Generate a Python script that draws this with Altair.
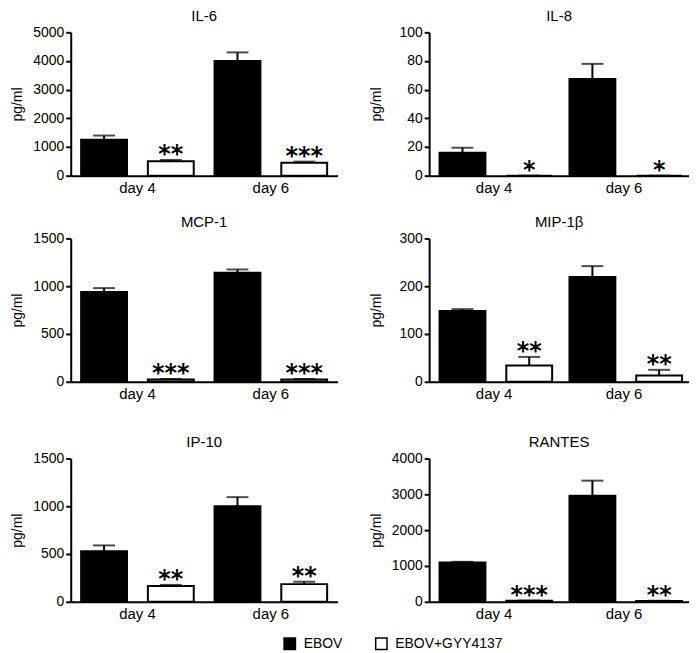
import altair as alt
import pandas as pd

# ---------------- data ----------------
days = ["day 4", "day 6"]
groups = ["EBOV", "EBOV+GYY4137"]

cytokines = ["IL-6", "IL-8", "MCP-1", "MIP-1β", "IP-10", "RANTES"]
# order of values: EBOV d4, GYY d4, EBOV d6, GYY d6
means = {
    "IL-6":   [1250, 500, 4000, 450],
    "IL-8":   [16, 0, 67.5, 0],
    "MCP-1":  [940, 25, 1140, 25],
    "MIP-1β": [148, 34, 219, 13],
    "IP-10":  [530, 165, 1000, 185],
    "RANTES": [1100, 30, 2960, 25],
}
sems = {
    "IL-6":   [150, 50, 300, 40],
    "IL-8":   [3.5, 0, 10.5, 0],
    "MCP-1":  [40, 4, 35, 4],
    "MIP-1β": [4, 18, 23, 12],
    "IP-10":  [60, 12, 95, 25],
    "RANTES": [15, 5, 420, 5],
}
stars = {
    "IL-6":   ["", "**", "", "***"],
    "IL-8":   ["", "*", "", "*"],
    "MCP-1":  ["", "***", "", "***"],
    "MIP-1β": ["", "**", "", "**"],
    "IP-10":  ["", "**", "", "**"],
    "RANTES": ["", "***", "", "**"],
}
ymax = {"IL-6": 5000, "IL-8": 100, "MCP-1": 1500, "MIP-1β": 300, "IP-10": 1500, "RANTES": 4000}
ystep = {"IL-6": 1000, "IL-8": 20, "MCP-1": 500, "MIP-1β": 100, "IP-10": 500, "RANTES": 1000}

FONT = "Liberation Sans"
H = 144


def panel(name, width):
    df = pd.DataFrame({
        "day": [days[0], days[0], days[1], days[1]],
        "group": [groups[0], groups[1], groups[0], groups[1]],
        "mean": means[name],
        "upper": [m + s for m, s in zip(means[name], sems[name])],
        "sig": stars[name],
    })
    yscale = alt.Scale(domain=[0, ymax[name]], nice=False, zero=True)
    yaxis = alt.Axis(values=list(range(0, ymax[name] + 1, ystep[name])),
                     format="d", labelOverlap=False, labelFlush=False,
                     title="pg/ml", titleX=-60, titleY=H / 2,
                     titleBaseline="top", titleAngle=270,
                     titleAlign="center", titleFontSize=14,
                     titleFontWeight="normal", titleFont=FONT,
                     titleColor="black",
                     domainColor="black", domainWidth=2,
                     tickColor="black", tickWidth=2,
                     tickSize=5, labelPadding=2, labelFontSize=14,
                     labelColor="black", labelFont=FONT, grid=False)
    base = alt.Chart(df).encode(
        x=alt.X("day:N", sort=days, title=None,
                scale=alt.Scale(paddingInner=0, paddingOuter=0),
                axis=alt.Axis(ticks=False, labelAngle=0, labelPadding=5,
                              labelFontSize=15, domainColor="black",
                              domainWidth=2, labelColor="black", labelFont=FONT)),
        xOffset=alt.XOffset("group:N", sort=groups,
                            scale=alt.Scale(paddingInner=0.313, paddingOuter=0.156)),
    )
    bars = base.mark_bar(stroke="black", strokeWidth=2).encode(
        y=alt.Y("mean:Q", scale=yscale, axis=yaxis),
        fill=alt.Fill("group:N", sort=groups,
                      scale=alt.Scale(domain=groups, range=["black", "white"]),
                      legend=alt.Legend(orient="none", legendX=213, legendY=607,
                                        direction="horizontal", title=None,
                                        symbolType="square", symbolSize=130,
                                        symbolStrokeColor="black",
                                        symbolStrokeWidth=1.5,
                                        labelFontSize=14, labelFont=FONT,
                                        labelColor="black",
                                        columnPadding=30, labelOffset=7)),
    )
    err = base.mark_rule(color="black", strokeWidth=2).encode(
        y=alt.Y("mean:Q", scale=yscale, axis=yaxis), y2="upper:Q")
    cap = base.mark_tick(color="black", thickness=2, size=22).encode(
        y=alt.Y("upper:Q", scale=yscale, axis=yaxis))
    txt = base.mark_text(font="DejaVu Sans", fontSize=24, fontWeight="bold",
                         baseline="alphabetic", dy=2, color="black").encode(
        y=alt.Y("upper:Q", scale=yscale, axis=yaxis), text="sig:N")
    return alt.layer(bars, err, cap, txt).properties(
        width=width, height=H,
        title=alt.TitleParams(name, fontSize=15, font=FONT, fontWeight="normal",
                              color="black", offset=1))


rows = []
for i in range(3):
    left = panel(cytokines[2 * i], 268)
    right = panel(cytokines[2 * i + 1], 261)
    rows.append(alt.hconcat(left, right, spacing=32))

chart = alt.vconcat(alt.vconcat(rows[0], rows[1], spacing=20), rows[2], spacing=34)
chart = chart.properties(
    padding={"left": 3, "top": 0, "right": 0, "bottom": 0},
    background="white",
).configure_view(stroke=None)

chart.save("out.html", embed_options={"renderer": "svg", "actions": False})
